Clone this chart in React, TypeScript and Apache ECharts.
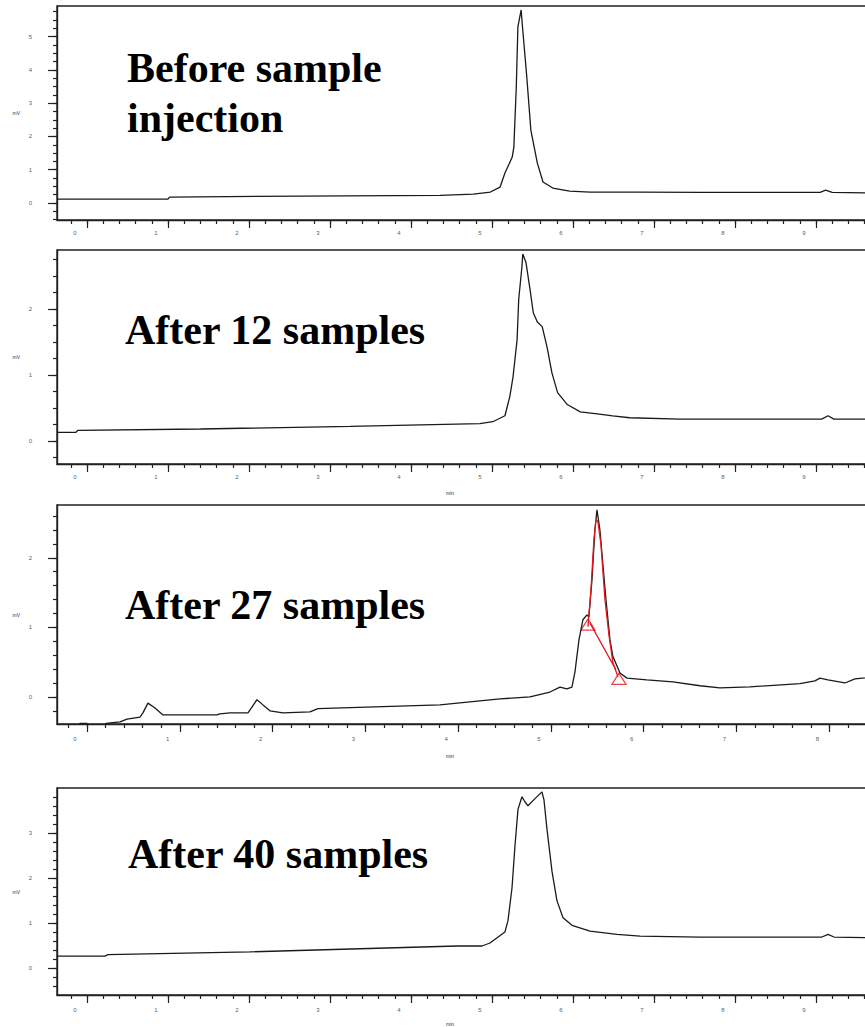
import { useEffect, useRef } from "react";
import * as echarts from "echarts";

// ---------- tick helpers ----------
const range = (a: number, b: number, s: number): number[] => {
  const r: number[] = [];
  for (let v = a; v <= b + 1e-9; v += s) r.push(Math.round(v * 1000) / 1000);
  return r;
};

// ---------- titles ----------
const titles = ["Before sample", "injection", "After 12 samples", "After 27 samples", "After 40 samples"];

// ---------- x ticks ----------
const xMajorWide = range(0, 9, 1);
const xMinorWide = range(-0.2, 9.8, 0.2);
const xMajorNarrow = range(0, 8, 1);
const xMinorNarrow = range(-0.2, 8.6, 0.2);

// ---------- y ticks ----------
const y1Major = range(0, 5, 1);
const y1Minor = range(-0.5, 5.75, 0.25);
const y2Major = range(0, 2, 1);
const y2Minor = range(-0.25, 2.75, 0.25);
const y3Major = range(0, 2, 1);
const y3Minor = range(-0.2, 2.6, 0.2);
const y4Major = range(0, 3, 1);
const y4Minor = range(-0.4, 3.8, 0.2);

// ---------- panel 1: before sample injection ----------
const beforeTime = [-0.37, 1.0, 1.02, 2.63, 4.36, 4.77, 4.98, 5.1, 5.16, 5.25, 5.27, 5.3, 5.32, 5.36, 5.38, 5.43, 5.48, 5.56, 5.63, 5.75, 5.96, 6.21, 6.83, 7.57, 9.05, 9.12, 9.2, 9.85];
const beforeSignal = [0.12, 0.12, 0.18, 0.21, 0.23, 0.27, 0.33, 0.48, 0.9, 1.38, 1.68, 3.48, 5.29, 5.8, 5.2, 3.78, 2.19, 1.2, 0.63, 0.45, 0.36, 0.33, 0.33, 0.32, 0.32, 0.39, 0.32, 0.3];

// ---------- panel 2: after 12 samples ----------
const s12Time = [-0.37, -0.136, -0.111, 1.4, 3.25, 4.85, 5.01, 5.16, 5.22, 5.26, 5.31, 5.33, 5.37, 5.38, 5.42, 5.47, 5.51, 5.56, 5.62, 5.68, 5.74, 5.81, 5.93, 6.09, 6.3, 6.49, 6.7, 7.32, 9.07, 9.15, 9.22, 9.85];
const s12Signal = [0.13, 0.13, 0.16, 0.18, 0.22, 0.26, 0.29, 0.38, 0.67, 0.97, 1.53, 2.14, 2.64, 2.83, 2.7, 2.29, 1.94, 1.8, 1.73, 1.42, 1.03, 0.73, 0.55, 0.44, 0.41, 0.38, 0.35, 0.33, 0.33, 0.38, 0.33, 0.33];

// ---------- panel 3: after 27 samples ----------
const s27Time = [-0.323, -0.097, -0.075, 0, 0.022, 0.172, 0.205, 0.356, 0.431, 0.571, 0.603, 0.657, 0.733, 0.819, 1.401, 1.433, 1.541, 1.735, 1.832, 1.897, 1.972, 2.112, 2.403, 2.489, 3.804, 4.45, 4.774, 4.989, 5.097, 5.172, 5.226, 5.259, 5.302, 5.345, 5.388, 5.409, 5.442, 5.474, 5.496, 5.528, 5.56, 5.593, 5.636, 5.668, 5.744, 5.819, 6.034, 6.315, 6.606, 6.821, 7.144, 7.683, 7.845, 7.899, 7.985, 8.168, 8.276, 8.6];
const s27Signal = [-0.45, -0.45, -0.38, -0.38, -0.45, -0.45, -0.38, -0.36, -0.32, -0.29, -0.23, -0.09, -0.16, -0.26, -0.26, -0.245, -0.23, -0.23, -0.04, -0.115, -0.2, -0.23, -0.215, -0.17, -0.115, -0.03, 0.0, 0.07, 0.14, 0.115, 0.14, 0.36, 0.82, 1.11, 1.18, 1.15, 1.68, 2.4, 2.69, 2.4, 1.9, 1.4, 0.82, 0.58, 0.345, 0.27, 0.245, 0.215, 0.16, 0.13, 0.145, 0.19, 0.23, 0.27, 0.245, 0.2, 0.26, 0.3];
// integrated peak (red)
const peakTime = [5.399, 5.431, 5.463, 5.485, 5.506, 5.539, 5.582, 5.625, 5.668, 5.722];
const peakSignal = [1.01, 1.54, 2.26, 2.55, 2.52, 2.19, 1.4, 0.89, 0.49, 0.29];
const peakBaseTime = [5.42, 5.7];
const peakBaseSignal = [1.065, 0.39];
const peakMarkTime = [5.399, 5.733];
const peakMarkSignal = [1.04, 0.26];

// ---------- panel 4: after 40 samples ----------
const s40Time = [-0.37, 0.222, 0.259, 2.012, 4.568, 4.877, 4.975, 5.16, 5.198, 5.247, 5.284, 5.321, 5.37, 5.407, 5.444, 5.531, 5.617, 5.642, 5.679, 5.741, 5.802, 5.877, 5.988, 6.21, 6.543, 6.827, 7.568, 9.074, 9.148, 9.222, 9.852];
const s40Signal = [0.266, 0.266, 0.3, 0.36, 0.49, 0.49, 0.557, 0.8, 1.06, 1.78, 2.72, 3.53, 3.81, 3.7, 3.61, 3.77, 3.92, 3.74, 3.09, 2.15, 1.5, 1.12, 0.95, 0.82, 0.75, 0.71, 0.69, 0.69, 0.75, 0.69, 0.67];

const zip = (xs: number[], ys: number[]) => xs.map((x, i) => [x, ys[i]]);

const AXIS_COLOR = "#222";
const LABEL_COLOR = "#5a6070";

function xPair(grid: number, min: number, max: number, majors: number[], minors: number[], margin: number, name: string, nameGap: number) {
  return [
    {
      type: "value", gridIndex: grid, position: "bottom", min, max,
      axisLine: { show: true, onZero: false, lineStyle: { color: AXIS_COLOR, width: 1.4 } },
      axisTick: { show: true, customValues: minors, length: 4, lineStyle: { color: AXIS_COLOR, width: 1.2 } },
      axisLabel: { show: false },
      splitLine: { show: false },
    },
    {
      type: "value", gridIndex: grid, position: "bottom", min, max,
      axisLine: { show: false, onZero: false },
      axisTick: { show: true, customValues: majors, length: 8, lineStyle: { color: AXIS_COLOR, width: 1.2 } },
      axisLabel: {
        show: true, customValues: majors, fontSize: 6, color: LABEL_COLOR, margin,
        padding: [0, 24, 0, 0], formatter: (v: number) => String(Math.round(v)),
      },
      splitLine: { show: false },
      name, nameLocation: "middle", nameGap,
      nameTextStyle: { fontSize: 5, color: "#333", padding: [0, 42, 0, 0] },
    },
  ];
}

function yPair(grid: number, min: number, max: number, majors: number[], minors: number[]) {
  return [
    {
      type: "value", gridIndex: grid, position: "left", min, max,
      axisLine: { show: true, onZero: false, lineStyle: { color: AXIS_COLOR, width: 1.4 } },
      axisTick: { show: true, customValues: minors, length: 4, lineStyle: { color: AXIS_COLOR, width: 1.2 } },
      axisLabel: { show: false },
      splitLine: { show: false },
    },
    {
      type: "value", gridIndex: grid, position: "left", min, max,
      axisLine: { show: false, onZero: false },
      axisTick: { show: true, customValues: majors, length: 9, lineStyle: { color: AXIS_COLOR, width: 1.2 } },
      axisLabel: {
        show: true, customValues: majors, fontSize: 6, color: LABEL_COLOR, margin: 25,
        formatter: (v: number) => String(Math.round(v)),
      },
      splitLine: { show: false },
      name: "mV", nameLocation: "middle", nameGap: 37, nameRotate: 0,
      nameTextStyle: { fontSize: 5, color: "#333" },
    },
  ];
}

const lineSeries = (idx: number, data: number[][], color = "#1a1a1a") => ({
  type: "line", xAxisIndex: idx * 2, yAxisIndex: idx * 2, data,
  showSymbol: false, symbol: "none", clip: true, silent: true,
  lineStyle: { color, width: 1.3 },
});

const titleFont = 'bold 42px "Liberation Serif", "Times New Roman", serif';

export default function App() {
  const ref = useRef<HTMLDivElement>(null);
  useEffect(() => {
    if (!ref.current) return;
    const chart = echarts.init(ref.current, undefined, { renderer: "svg" });
    // chart canvas is 905 wide; plot area runs past the visible 865px edge, as in the cropped source
    const gridBase = { left: 57, right: 20, show: true, borderColor: AXIS_COLOR, borderWidth: 1.4, backgroundColor: "transparent" };
    chart.setOption({
      animation: false,
      backgroundColor: "#fff",
      grid: [
        { ...gridBase, top: 6, height: 214 },
        { ...gridBase, top: 250, height: 214 },
        { ...gridBase, top: 505, height: 219 },
        { ...gridBase, top: 788, height: 211 },
      ],
      xAxis: [
        ...xPair(0, -0.37, 9.852, xMajorWide, xMinorWide, 10, "", 26),
        ...xPair(1, -0.37, 9.852, xMajorWide, xMinorWide, 10, "min", 26),
        ...xPair(2, -0.323, 8.6, xMajorNarrow, xMinorNarrow, 12, "min", 29),
        ...xPair(3, -0.37, 9.852, xMajorWide, xMinorWide, 12, "min", 26),
      ],
      yAxis: [
        ...yPair(0, -0.51, 5.92, y1Major, y1Minor),
        ...yPair(1, -0.35, 2.89, y2Major, y2Minor),
        ...yPair(2, -0.39, 2.76, y3Major, y3Minor),
        ...yPair(3, -0.6, 4.006, y4Major, y4Minor),
      ],
      series: [
        lineSeries(0, zip(beforeTime, beforeSignal)),
        lineSeries(1, zip(s12Time, s12Signal)),
        lineSeries(2, zip(s27Time, s27Signal)),
        lineSeries(2, zip(peakTime, peakSignal), "#e3161c"),
        lineSeries(2, zip(peakBaseTime, peakBaseSignal), "#e3161c"),
        {
          type: "scatter", xAxisIndex: 4, yAxisIndex: 4, silent: true,
          data: zip(peakMarkTime, peakMarkSignal),
          symbol: "triangle", symbolSize: [14, 11],
          itemStyle: { color: "rgba(0,0,0,0)", borderColor: "#e3161c", borderWidth: 1.3 },
        },
        lineSeries(3, zip(s40Time, s40Signal)),
      ],
      graphic: [
        { type: "text", x: 127, y: 68, style: { text: titles[0], font: titleFont, fill: "#000", verticalAlign: "middle" } },
        { type: "text", x: 127, y: 118, style: { text: titles[1], font: titleFont, fill: "#000", verticalAlign: "middle" } },
        { type: "text", x: 125, y: 330, style: { text: titles[2], font: titleFont, fill: "#000", verticalAlign: "middle" } },
        { type: "text", x: 125, y: 605, style: { text: titles[3], font: titleFont, fill: "#000", verticalAlign: "middle" } },
        { type: "text", x: 128, y: 854, style: { text: titles[4], font: titleFont, fill: "#000", verticalAlign: "middle" } },
      ],
    });
    return () => chart.dispose();
  }, []);
  return (
    <div style={{ position: "absolute", left: 0, top: 0, width: 865, height: 1027, overflow: "hidden", background: "#fff" }}>
      <div ref={ref} style={{ width: 905, height: 1027 }} />
    </div>
  );
}
